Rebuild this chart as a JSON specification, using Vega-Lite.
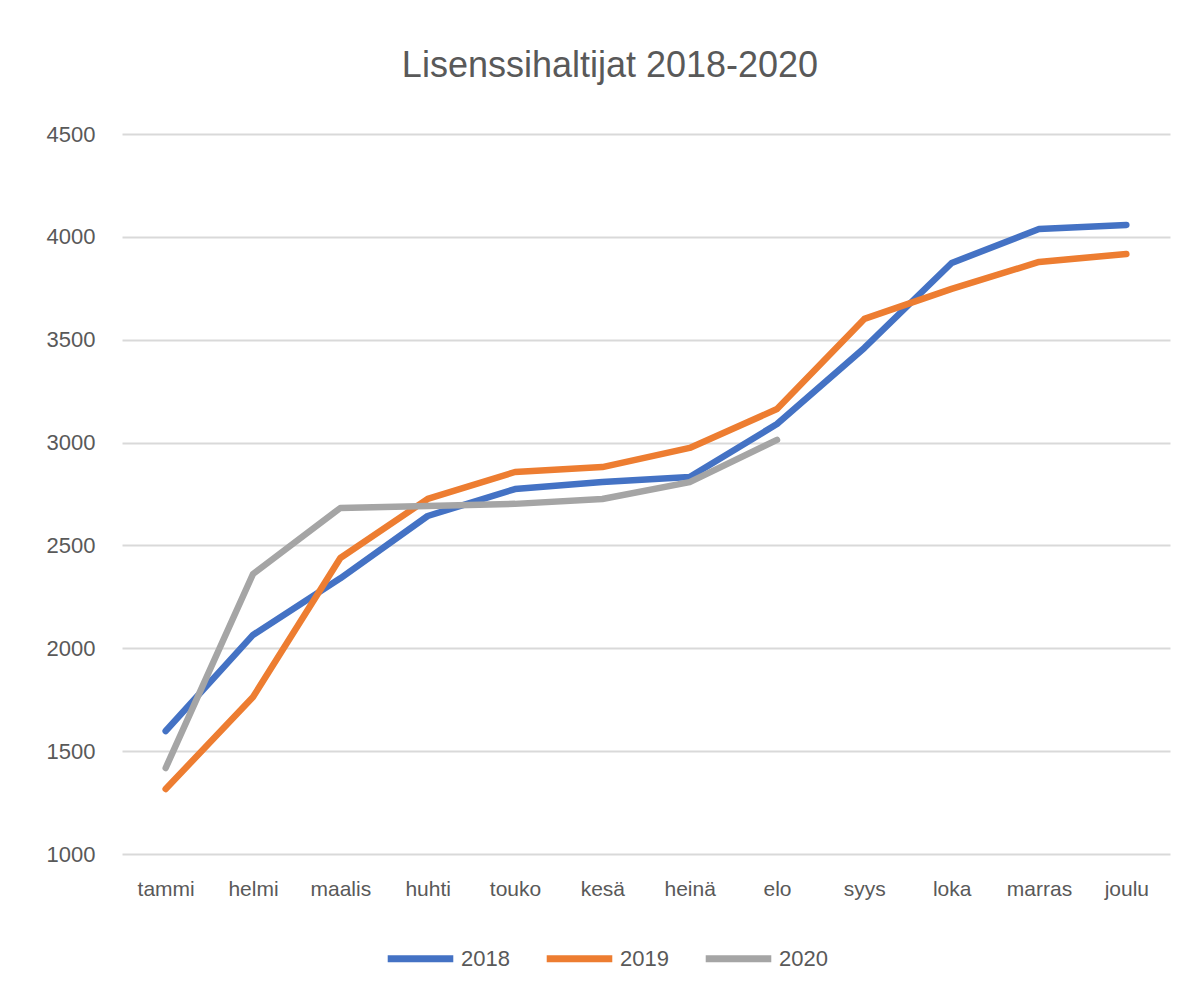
{
  "$schema": "https://vega.github.io/schema/vega-lite/v6.json",
  "autosize": {"type": "none"},
  "width": 1048,
  "height": 720,
  "padding": {"left": 122, "top": 134, "right": 28, "bottom": 146},
  "background": "white",
  "title": {"text": "Lisenssihaltijat 2018-2020", "font": "Liberation Sans", "fontSize": 36, "fontWeight": "normal", "color": "#595959", "offset": 38, "dx": -36, "anchor": "middle"},
  "data": {"values": [
    {"kk": "tammi", "v": "2018", "n": 1598}, {"kk": "helmi", "v": "2018", "n": 2065}, {"kk": "maalis", "v": "2018", "n": 2340}, {"kk": "huhti", "v": "2018", "n": 2643}, {"kk": "touko", "v": "2018", "n": 2774}, {"kk": "kesä", "v": "2018", "n": 2808}, {"kk": "heinä", "v": "2018", "n": 2833}, {"kk": "elo", "v": "2018", "n": 3090}, {"kk": "syys", "v": "2018", "n": 3460}, {"kk": "loka", "v": "2018", "n": 3873}, {"kk": "marras", "v": "2018", "n": 4038}, {"kk": "joulu", "v": "2018", "n": 4058},
    {"kk": "tammi", "v": "2019", "n": 1316}, {"kk": "helmi", "v": "2019", "n": 1763}, {"kk": "maalis", "v": "2019", "n": 2439}, {"kk": "huhti", "v": "2019", "n": 2726}, {"kk": "touko", "v": "2019", "n": 2857}, {"kk": "kesä", "v": "2019", "n": 2881}, {"kk": "heinä", "v": "2019", "n": 2974}, {"kk": "elo", "v": "2019", "n": 3163}, {"kk": "syys", "v": "2019", "n": 3601}, {"kk": "loka", "v": "2019", "n": 3747}, {"kk": "marras", "v": "2019", "n": 3878}, {"kk": "joulu", "v": "2019", "n": 3917},
    {"kk": "tammi", "v": "2020", "n": 1418}, {"kk": "helmi", "v": "2020", "n": 2361}, {"kk": "maalis", "v": "2020", "n": 2682}, {"kk": "huhti", "v": "2020", "n": 2692}, {"kk": "touko", "v": "2020", "n": 2702}, {"kk": "kesä", "v": "2020", "n": 2726}, {"kk": "heinä", "v": "2020", "n": 2808}, {"kk": "elo", "v": "2020", "n": 3013}
  ]},
  "mark": {"type": "line", "strokeWidth": 6.5, "strokeCap": "round", "strokeJoin": "round"},
  "encoding": {
    "x": {"field": "kk", "type": "ordinal", "sort": null,
      "scale": {"type": "point", "padding": 0.5},
      "axis": {"title": null, "domain": false, "ticks": false, "labelAngle": 0, "labelPadding": 24, "labelFontSize": 21, "labelFont": "Liberation Sans", "labelColor": "#595959", "grid": false}},
    "y": {"field": "n", "type": "quantitative",
      "scale": {"domain": [1000, 4500], "nice": false, "zero": false},
      "axis": {"title": null, "format": "d", "values": [1000, 1500, 2000, 2500, 3000, 3500, 4000, 4500], "domain": false, "ticks": false, "labelPadding": 27, "labelFontSize": 22, "labelFont": "Liberation Sans", "labelColor": "#595959", "gridColor": "#d9d9d9", "gridWidth": 2}},
    "color": {"field": "v", "type": "nominal",
      "scale": {"domain": ["2018", "2019", "2020"], "range": ["#4472c4", "#ed7d31", "#a5a5a5"]},
      "legend": {"title": null, "orient": "none", "direction": "horizontal", "legendX": 262, "legendY": 788, "symbolType": "stroke", "symbolSize": 4300, "symbolStrokeWidth": 7, "labelFontSize": 22, "labelFont": "Liberation Sans", "labelColor": "#595959", "columnPadding": 22, "labelOffset": 4}}
  },
  "config": {"view": {"stroke": null}}
}
